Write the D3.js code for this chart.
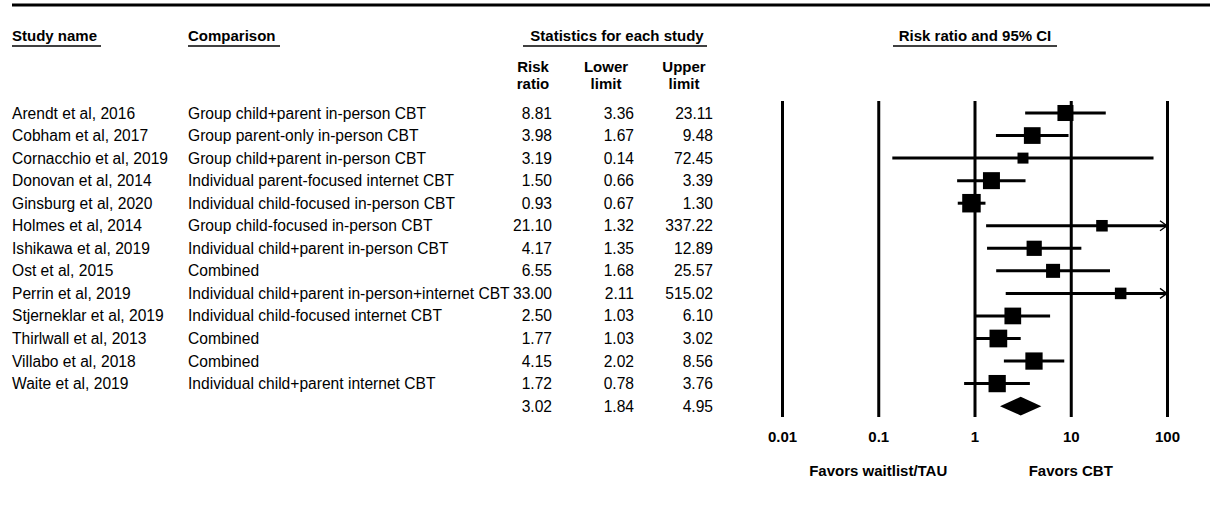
<!DOCTYPE html>
<html>
<head>
<meta charset="utf-8">
<script src="https://cdn.jsdelivr.net/npm/d3@7"></script>
<style>
  html, body { margin: 0; padding: 0; background: #fff; }
  svg { display: block; font-family: "Liberation Sans", Arial, sans-serif; }
</style>
</head>
<body>
<svg id="chart" width="1210" height="514"></svg>
<script>
// ---- data ----
const studies = [
  "Arendt et al, 2016", "Cobham et al, 2017", "Cornacchio et al, 2019", "Donovan et al, 2014",
  "Ginsburg et al, 2020", "Holmes  et al, 2014", "Ishikawa et al, 2019", "Ost et al, 2015",
  "Perrin et al, 2019", "Stjerneklar et al, 2019", "Thirlwall et al, 2013", "Villabo et al, 2018",
  "Waite et al, 2019"
];
const comparisons = [
  "Group child+parent in-person CBT", "Group parent-only in-person CBT", "Group child+parent in-person CBT",
  "Individual parent-focused internet CBT", "Individual child-focused in-person CBT", "Group child-focused in-person CBT",
  "Individual child+parent in-person CBT", "Combined", "Individual child+parent in-person+internet CBT",
  "Individual child-focused internet CBT", "Combined", "Combined", "Individual child+parent internet CBT"
];
const riskRatio = [8.81, 3.98, 3.19, 1.50, 0.93, 21.10, 4.17, 6.55, 33.00, 2.50, 1.77, 4.15, 1.72];
const lowerLimit = [3.36, 1.67, 0.14, 0.66, 0.67, 1.32, 1.35, 1.68, 2.11, 1.03, 1.03, 2.02, 0.78];
const upperLimit = [23.11, 9.48, 72.45, 3.39, 1.30, 337.22, 12.89, 25.57, 515.02, 6.10, 3.02, 8.56, 3.76];
// relative weights (%), estimated from square areas
const weights = [8.1, 8.8, 3.8, 9.1, 10.8, 4.2, 7.3, 6.2, 4.2, 8.8, 9.9, 9.4, 9.4];
const summary = { rr: 3.02, lower: 1.84, upper: 4.95 };
const tickValues = [0.01, 0.1, 1, 10, 100];
const tickLabels = ["0.01", "0.1", "1", "10", "100"];
const favorsLeft = "Favors waitlist/TAU";
const favorsRight = "Favors CBT";

// ---- layout ----
const svg = d3.select("#chart");
const FS = 15;      // bold headings
const FSB = 15.6;   // body text
const rowY = d3.scaleLinear().domain([0, 1]).range([113, 113 + 22.55]);
const x = d3.scaleLog().domain([0.01, 100]).range([782, 1167]);
const sizeScale = d3.scaleSqrt().domain([0, d3.max(weights)]).range([0, 18.5]);
const plotTop = 101, plotBottom = 417;
const fmt = d3.format(".2f");

// top rule
svg.append("line").attr("x1", 12).attr("x2", 1210).attr("y1", 5).attr("y2", 5)
  .attr("stroke", "#000").attr("stroke-width", 3);

// headers with underline
function header(txt, xPos, anchor, ulx1, ulx2) {
  svg.append("text").attr("x", xPos).attr("y", 41).attr("text-anchor", anchor)
    .attr("font-size", FS).attr("font-weight", "bold").text(txt);
  svg.append("line").attr("x1", ulx1).attr("x2", ulx2).attr("y1", 46).attr("y2", 46)
    .attr("stroke", "#000").attr("stroke-width", 1.3);
}
header("Study name", 12, "start", 12, 101);
header("Comparison", 188, "start", 188, 280);
header("Statistics for each study", 617, "middle", 523, 707);
header("Risk ratio and 95% CI", 975, "middle", 893, 1057);

const colHeads = [["Risk", "ratio", 533], ["Lower", "limit", 606], ["Upper", "limit", 684]];
colHeads.forEach(([a, b, cx]) => {
  svg.append("text").attr("x", cx).attr("y", 72).attr("text-anchor", "middle")
    .attr("font-size", FS).attr("font-weight", "bold").text(a);
  svg.append("text").attr("x", cx).attr("y", 89).attr("text-anchor", "middle")
    .attr("font-size", FS).attr("font-weight", "bold").text(b);
});

// rows
const rows = studies.map((s, i) => ({
  study: s, comp: comparisons[i], rr: riskRatio[i], lo: lowerLimit[i], hi: upperLimit[i], w: weights[i], i
}));

const tg = svg.append("g").attr("font-size", FSB);
tg.selectAll("text.study").data(rows).join("text").attr("class", "study")
  .attr("x", 12).attr("y", d => rowY(d.i) + 5.5).text(d => d.study);
tg.selectAll("text.comp").data(rows).join("text").attr("class", "comp")
  .attr("x", 188).attr("y", d => rowY(d.i) + 5.5).text(d => d.comp);

const numRows = rows.concat([{ rr: summary.rr, lo: summary.lower, hi: summary.upper, i: rows.length }]);
[["rr", 552], ["lo", 634], ["hi", 713]].forEach(([k, xr]) => {
  tg.selectAll("text.n" + k).data(numRows).join("text").attr("class", "n" + k)
    .attr("x", xr).attr("y", d => rowY(d.i) + 5.5).attr("text-anchor", "end")
    .text(d => fmt(d[k]));
});

// vertical reference lines + tick labels via axis
const axis = d3.axisBottom(x).tickValues(tickValues)
  .tickFormat((d, i) => tickLabels[i])
  .tickSize(-(plotBottom - plotTop)).tickPadding(14);
const ag = svg.append("g").attr("transform", `translate(0,${plotBottom})`).call(axis);
ag.select(".domain").remove();
ag.selectAll(".tick line").attr("stroke", "#000").attr("stroke-width", 3);
ag.selectAll(".tick text").attr("font-size", FS).attr("font-weight", "bold")
  .attr("font-family", "Liberation Sans, Arial, sans-serif").attr("fill", "#000");

// CI lines
const [xmin, xmax] = x.domain();
const pg = svg.append("g");
pg.selectAll("line.ci").data(rows).join("line").attr("class", "ci")
  .attr("x1", d => x(Math.max(d.lo, xmin))).attr("x2", d => x(Math.min(d.hi, xmax)))
  .attr("y1", d => rowY(d.i)).attr("y2", d => rowY(d.i))
  .attr("stroke", "#000").attr("stroke-width", 3);

// arrows for truncated CIs
pg.selectAll("path.arrow").data(rows.filter(d => d.hi > xmax)).join("path").attr("class", "arrow")
  .attr("d", d => {
    const ax = x(xmax), ay = rowY(d.i);
    return `M${ax - 7},${ay - 5} L${ax},${ay} L${ax - 7},${ay + 5}`;
  })
  .attr("fill", "none").attr("stroke", "#000").attr("stroke-width", 1.3);

// squares
pg.selectAll("rect.pt").data(rows).join("rect").attr("class", "pt")
  .attr("x", d => x(d.rr) - sizeScale(d.w) / 2).attr("y", d => rowY(d.i) - sizeScale(d.w) / 2)
  .attr("width", d => sizeScale(d.w)).attr("height", d => sizeScale(d.w))
  .attr("fill", "#000");

// summary diamond
const sy = rowY(rows.length);
pg.append("path")
  .attr("d", `M${x(summary.lower)},${sy} L${x(summary.rr)},${sy - 9.3} L${x(summary.upper)},${sy} L${x(summary.rr)},${sy + 9.3} Z`)
  .attr("fill", "#000");

// favors labels
svg.append("text").attr("x", x(0.1)).attr("y", 476).attr("text-anchor", "middle")
  .attr("font-size", FS).attr("font-weight", "bold").text(favorsLeft);
svg.append("text").attr("x", x(10)).attr("y", 476).attr("text-anchor", "middle")
  .attr("font-size", FS).attr("font-weight", "bold").text(favorsRight);
</script>
</body>
</html>
